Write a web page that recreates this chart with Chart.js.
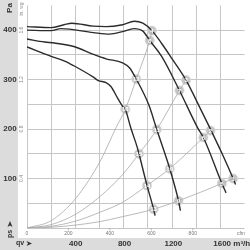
<!DOCTYPE html>
<html>
<head>
<meta charset="utf-8">
<script src="https://cdn.jsdelivr.net/npm/chart.js@4/dist/chart.umd.min.js"></script>
<style>
  html, body { margin: 0; padding: 0; background: #fff; }
  #wrap { width: 250px; height: 250px; }
</style>
</head>
<body>
<div id="wrap"><canvas id="fanChart" width="250" height="250"></canvas></div>
<script>
// fan curves (m3/h -> Pa)
const curve1Flow = [0, 198, 304, 368, 544, 648, 784, 880, 950, 1024, 1104, 1184, 1304, 1400, 1504, 1600, 1690, 1710];
const curve1Pa   = [407, 405, 411, 414, 408, 407, 411, 418, 414, 399, 373, 344, 299, 252, 200, 150, 100, 88];
const curve2Flow = [0, 198, 278, 544, 678, 784, 877, 950, 1006, 1104, 1250, 1398, 1446, 1598, 1632];
const curve2Pa   = [400, 399, 403, 395, 392, 397, 403, 398, 379, 347, 278, 203, 183, 90, 71];
const curve3Flow = [0, 144, 224, 384, 544, 648, 784, 840, 896, 1000, 1064, 1170, 1242, 1258];
const curve3Pa   = [382, 376, 374, 367, 351, 342, 334, 324, 301, 248, 199, 120, 55, 35];
const curve4Flow = [0, 198, 304, 384, 544, 584, 648, 688, 744, 784, 806, 850, 904, 918, 984, 1038, 1050];
const curve4Pa   = [366, 347, 338, 328, 305, 298, 294, 286, 262, 246, 240, 203, 163, 150, 86, 38, 25];

// system curves
const sys1Flow = [0, 200, 400, 600, 730, 806, 896, 1006, 1024];
const sys1Pa   = [0, 15, 60, 135, 203, 240, 301, 380, 399];
const sys2Flow = [0, 200, 400, 600, 784, 918, 1064, 1250, 1304];
const sys2Pa   = [0, 7, 28, 64, 108, 150, 199, 278, 299];
const sys3Flow = [0, 200, 400, 600, 784, 984, 1170, 1446, 1504];
const sys3Pa   = [0, 3.5, 14, 32, 52, 86, 120, 183, 197];
const sys4Flow = [0, 200, 400, 600, 784, 1038, 1242, 1598, 1690];
const sys4Pa   = [0, 1.5, 6, 13, 23, 38, 55, 90, 100];

// numbered operating points
const opLabels = ['1', '2', '3', '4', '5', '6', '7', '8', '9', '10', '11', '12', '13', '14', '15', '16'];
const opFlow = [1690, 1504, 1304, 1024, 1598, 1446, 1250, 1006, 1242, 1170, 1064, 896, 1038, 984, 918, 806];
const opPa   = [100, 197, 299, 399, 90, 183, 278, 379, 55, 120, 199, 301, 38, 86, 150, 240];

// axis labels
const paTicks = [100, 200, 300, 400];
const inwgTicks = ['0.4', '0.8', '1.2', '1.6'];
const flowTicks = [400, 800, 1200, 1600];
const cfmTicks = [0, 200, 400, 600, 800];

function pts(xs, ys) {
  return xs.map((x, i) => ({ x: x, y: ys[i] }));
}

function fanSet(xs, ys) {
  return { data: pts(xs, ys), borderColor: '#2b2b2b', borderWidth: 1.4, pointRadius: 0,
           cubicInterpolationMode: 'monotone', fill: false };
}
function sysSet(xs, ys) {
  return { data: pts(xs, ys), borderColor: '#a8a8a8', borderWidth: 0.8, pointRadius: 0,
           cubicInterpolationMode: 'monotone', fill: false };
}

const panels = {
  id: 'panels',
  beforeDraw(chart) {
    const c = chart.ctx;
    c.save();
    c.fillStyle = '#fff';
    c.fillRect(0, 0, chart.width, chart.height);
    c.fillStyle = '#dcdcdc';
    c.fillRect(0, 0, 18, 238);
    c.fillRect(0, 238, chart.width, 12);
    c.restore();
  },
  afterDraw(chart) {
    const c = chart.ctx;
    const xs = chart.scales.x, ys = chart.scales.y;
    c.save();
    // Pa labels
    c.fillStyle = '#333';
    c.font = 'bold 8px "Liberation Sans", Arial, sans-serif';
    c.textAlign = 'center';
    c.textBaseline = 'middle';
    paTicks.forEach(v => c.fillText(String(v), 10, ys.getPixelForValue(v)));
    c.save();
    c.translate(10, 8);
    c.rotate(-Math.PI / 2);
    c.fillText('Pa', 0, 0);
    c.restore();
    c.save();
    c.translate(10, 234);
    c.rotate(-Math.PI / 2);
    c.font = 'bold 7px "Liberation Sans", Arial, sans-serif';
    c.fillText('ps', 0, 0);
    c.restore();
    // up arrow
    c.beginPath();
    c.moveTo(10, 221); c.lineTo(12.5, 227); c.lineTo(10, 225.5); c.lineTo(7.5, 227); c.closePath();
    c.fill();

    // in. wg labels
    c.fillStyle = '#888';
    c.font = '5px "Liberation Sans", Arial, sans-serif';
    inwgTicks.forEach((t, i) => {
      c.save();
      c.translate(22, ys.getPixelForValue(paTicks[i]));
      c.rotate(-Math.PI / 2);
      c.fillText(t, 0, 0);
      c.restore();
    });
    c.save();
    c.translate(22, 9);
    c.rotate(-Math.PI / 2);
    c.fillText('in. wg', 0, 0);
    c.restore();

    // cfm labels
    c.fillStyle = '#777';
    c.strokeStyle = '#999';
    c.lineWidth = 0.6;
    cfmTicks.forEach(v => {
      const px = xs.getPixelForValue(v * 1.699);
      c.fillText(String(v), px, 233.5);
      if (v > 0) {
        c.beginPath(); c.moveTo(px, 228); c.lineTo(px, 230.5); c.stroke();
      }
    });
    c.fillText('cfm', 241, 233.5);

    // m3/h labels
    c.fillStyle = '#333';
    c.font = 'bold 8px "Liberation Sans", Arial, sans-serif';
    flowTicks.forEach(v => {
      const px = xs.getPixelForValue(v);
      if (v === 1600) {
        const w = c.measureText('1600').width;
        c.textAlign = 'left';
        c.fillText('1600 m\u00b3/h', px - w / 2, 244);
        c.textAlign = 'center';
      } else {
        c.fillText(String(v), px, 244);
      }
    });
    c.font = 'bold 7px "Liberation Sans", Arial, sans-serif';
    c.fillText('qv', 20, 243.5);
    c.beginPath();
    c.moveTo(32, 243.5); c.lineTo(26.5, 241); c.lineTo(28, 243.5); c.lineTo(26.5, 246); c.closePath();
    c.fill();
    c.restore();
  },
  afterDatasetsDraw(chart) {
    const c = chart.ctx;
    const meta = chart.getDatasetMeta(chart.data.datasets.length - 1);
    c.save();
    c.fillStyle = '#fff';
    c.font = 'bold 6px "Liberation Sans", Arial, sans-serif';
    c.textAlign = 'center';
    c.textBaseline = 'middle';
    meta.data.forEach((p, i) => c.fillText(opLabels[i], p.x, p.y + 0.5));
    c.restore();
  }
};

const ctx = document.getElementById('fanChart').getContext('2d');
new Chart(ctx, {
  type: 'line',
  data: {
    datasets: [
      sysSet(sys1Flow, sys1Pa),
      sysSet(sys2Flow, sys2Pa),
      sysSet(sys3Flow, sys3Pa),
      sysSet(sys4Flow, sys4Pa),
      fanSet(curve1Flow, curve1Pa),
      fanSet(curve2Flow, curve2Pa),
      fanSet(curve3Flow, curve3Pa),
      fanSet(curve4Flow, curve4Pa),
      {
        data: pts(opFlow, opPa),
        showLine: false,
        pointRadius: 4.6,
        pointBackgroundColor: '#c6c6c6',
        pointBorderColor: '#dadada',
        pointBorderWidth: 0.8
      }
    ]
  },
  options: {
    responsive: false,
    animation: false,
    layout: { padding: { left: 27, right: 0, top: 0, bottom: 22 } },
    plugins: { legend: { display: false }, tooltip: { enabled: false } },
    scales: {
      x: {
        type: 'linear', min: 0, max: 1784,
        ticks: { display: false, stepSize: 200 },
        grid: { color: c => (c.tick && c.tick.value > 1700) ? 'rgba(0,0,0,0)' : '#c6c6c6', drawTicks: false },
        border: { display: false }
      },
      y: {
        min: 0, max: 450,
        ticks: { display: false, stepSize: 50 },
        grid: { color: c => (c.tick && c.tick.value > 420) ? 'rgba(0,0,0,0)' : '#c6c6c6', drawTicks: false },
        border: { display: false }
      }
    }
  },
  plugins: [panels]
});
</script>
</body>
</html>
